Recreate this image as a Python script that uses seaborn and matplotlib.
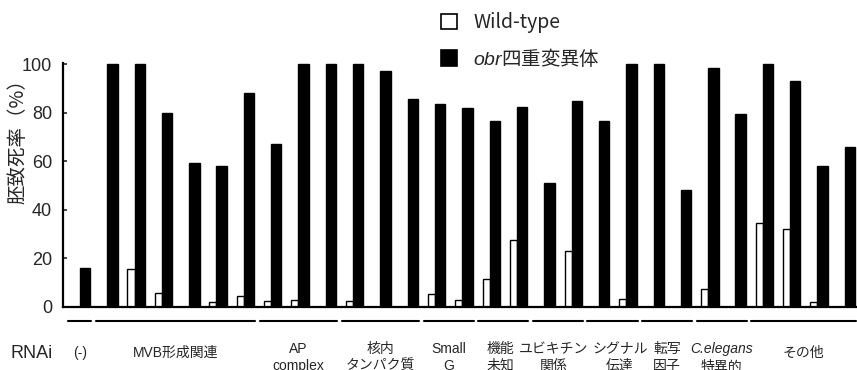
import pandas as pd
import seaborn as sns
import matplotlib.pyplot as plt
import matplotlib.patches as mpatches
import matplotlib.transforms as mtransforms

# RNAi groups and how many knockdowns sit under each one
groups = ['(-)', 'MVB形成関連', 'AP\ncomplex', '核内\nタンパク質', 'Small\nG', '機能\n未知',
          'ユビキチン\n関係', 'シグナル\n伝達', '転写\n因子', 'C.elegans\n特異的', 'その他']
group_sizes = [1, 6, 3, 3, 2, 2, 2, 2, 2, 2, 4]

# embryonic lethality (%) per knockdown, left to right
wild_type = [0, 0, 15.5, 5.6, 0, 1.8, 4.4, 2.5, 2.6, 0, 2.5, 0, 0, 5.4, 2.6,
             11.4, 27.4, 0, 23, 0, 3.3, 0, 0, 7.4, 0, 34.7, 31.9, 1.8, 0]
obr_mutant = [16, 100, 100, 80, 59.4, 58, 88, 67, 100, 100, 100, 97.4, 85.5, 83.6, 82,
              76.5, 82.3, 51, 85, 76.6, 100, 100, 48, 98.3, 79.6, 100, 93, 58, 66]

strains = ['Wild-type', 'obr']
yticks = [0, 20, 40, 60, 80, 100]

rnai = []
for g, n in zip(groups, group_sizes):
    for k in range(n):
        rnai.append(f'{g}-{k}')

df = pd.DataFrame({
    'rnai': rnai * 2,
    'value': wild_type + obr_mutant,
    'strain': [strains[0]] * len(rnai) + [strains[1]] * len(rnai),
})

sns.set_theme(style='white')
plt.rcParams['font.family'] = ['Liberation Sans', 'Noto Sans CJK JP']
plt.rcParams['mathtext.fontset'] = 'custom'
plt.rcParams['mathtext.it'] = 'Liberation Sans:italic'

H = 370.0
fig = plt.figure(figsize=(8.57, 3.70), dpi=100)
ax = fig.add_axes([0.0735, 0.171, 0.9265, 0.6584])

sns.barplot(data=df, x='rnai', y='value', hue='strain', hue_order=strains,
            palette={'Wild-type': 'white', 'obr': 'black'}, edgecolor='black',
            linewidth=1.0, width=0.76, dodge=True, legend=False, ax=ax)

# wild-type bars are narrower in the original, keep them glued to the black bar
for p in ax.containers[0]:
    w = p.get_width()
    p.set_x(p.get_x() + w * 0.32)
    p.set_width(w * 0.68)

ax.set_xlim(-0.62, len(rnai) - 0.55)
ax.set_ylim(0, 100.5)
ax.set_yticks(yticks)
ax.set_xticks([])
ax.set_xlabel('')
ax.tick_params(axis='y', direction='in', length=3, width=1.2, labelsize=13, pad=8, left=True)
for s in ['top', 'right']:
    ax.spines[s].set_visible(False)
for s in ['left', 'bottom']:
    ax.spines[s].set_linewidth(1.6)
    ax.spines[s].set_color('black')

ax.set_ylabel('胚致死率（%）', fontsize=14, family='Noto Sans CJK JP')
ax.yaxis.set_label_coords(-0.043, 0.70)

# small label nudges where neighbouring labels crowd each other
nudge = {'機能\n未知': -0.1, 'ユビキチン\n関係': -0.15, 'シグナル\n伝達': 0.27}

# group underlines and labels below the axis (x in data, y in figure pixels)
trans = mtransforms.blended_transform_factory(ax.transData, fig.transFigure)
start = 0
for g, n in zip(groups, group_sizes):
    end = start + n - 1
    ax.plot([start - 0.42, end + 0.42], [1 - 321 / H, 1 - 321 / H], color='black', lw=1.5,
            transform=trans, clip_on=False)
    cx = (start + end) / 2 + nudge.get(g, 0)
    if '\n' in g:
        top, sub = g.split('\n')
        ax.text(cx, 1 - 342 / H, top, transform=trans, ha='center', va='top', fontsize=10,
                fontstyle='italic' if g.startswith('C.') else 'normal')
        ax.text(cx, 1 - 359 / H, sub, transform=trans, ha='center', va='top', fontsize=10)
    else:
        ax.text(cx, 1 - 353 / H, g, transform=trans, ha='center', va='center', fontsize=10)
    start = end + 1

fig.text(32 / 857, 1 - 353 / H, 'RNAi', ha='center', va='center', fontsize=13)

handles = [mpatches.Patch(facecolor='white', edgecolor='black', linewidth=1.2),
           mpatches.Patch(facecolor='black', edgecolor='black', linewidth=1.2)]
leg = ax.legend(handles, ['Wild-type', r'$\mathit{obr}$四重変異体'],
                loc='upper left', bbox_to_anchor=(441 / 857, 1 - 12 / H),
                bbox_transform=fig.transFigure, frameon=False, fontsize=14,
                handlelength=0.8, handleheight=0.85, handletextpad=0.85,
                labelspacing=0.7, borderpad=0, borderaxespad=0)
for t in leg.get_texts():
    t.set_family('Noto Sans CJK JP')

fig.savefig('out.png', dpi=100)
